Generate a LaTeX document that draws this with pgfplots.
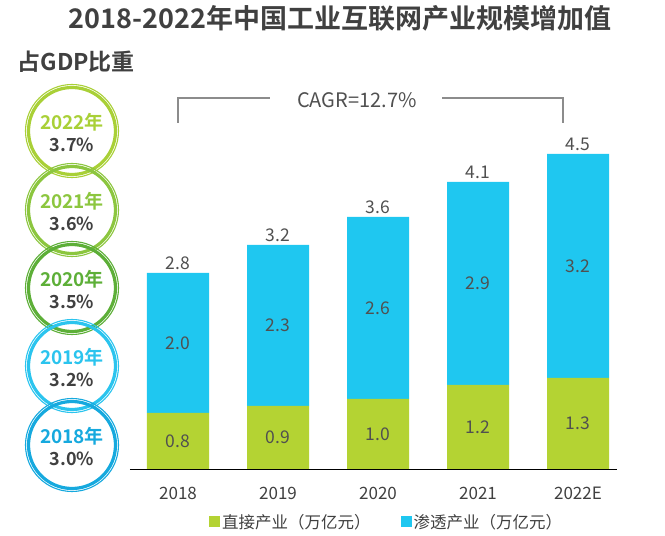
\documentclass[border=0pt]{standalone}
\usepackage{pgfplots}
\pgfplotsset{compat=1.18}
\usepackage{fontspec}
\setmainfont{Noto Sans CJK SC}[BoldFont={Noto Sans CJK SC Bold}]
\definecolor{tgray}{HTML}{404040}
\definecolor{lgray}{HTML}{505050}
\definecolor{bgreen}{HTML}{B4D333}
\definecolor{bblue}{HTML}{1FC7F0}
\definecolor{cA}{HTML}{A9D037}
\definecolor{cB}{HTML}{8CC63F}
\definecolor{cC}{HTML}{5DAF38}
\definecolor{cD}{HTML}{2BC4EE}
\definecolor{cE}{HTML}{16A9DE}
\definecolor{brk}{HTML}{8C8C8C}

\pgfplotstableread{
x direct indirect
0 0.8 2.0
1 0.9 2.3
2 1.0 2.6
3 1.2 2.9
4 1.3 3.2
}\mainData

\pgfplotstableread{
x y label
0 0.40 0.8
1 0.45 0.9
2 0.50 1.0
3 0.60 1.2
4 0.65 1.3
0 1.80 2.0
1 2.05 2.3
2 2.30 2.6
3 2.65 2.9
4 2.90 3.2
}\midLabels

\pgfplotstableread{
x y label
0 2.8 2.8
1 3.2 3.2
2 3.6 3.6
3 4.1 4.1
4 4.5 4.5
}\topLabels

\begin{document}
\begin{tikzpicture}[x=1pt,y=1pt]
\path[use as bounding box] (0,0) rectangle (665,536);

% title
\node[font=\bfseries\fontsize{27}{27}\selectfont, text=tgray] at (340,518) {2018-2022年中国工业互联网产业规模增加值};
\node[font=\bfseries\fontsize{23}{23}\selectfont, text=tgray, anchor=west] at (14,474) {占GDP比重};

% circles
\foreach \c/\yr/\pc/\col in {131/2022/3.7/cA, 210/2021/3.6/cB, 288/2020/3.5/cC, 366/2019/3.2/cD, 445/2018/3.0/cE}{
  \draw[\col, line width=1.1] (72,536-\c) circle (46.5);
  \draw[\col, line width=3.2] (72,536-\c) circle (43.5);
  \node[font=\bfseries\fontsize{19}{19}\selectfont, text=\col] at (72,536-\c+9) {\yr 年};
  \node[font=\bfseries\fontsize{18}{18}\selectfont, text=tgray] at (72,536-\c-14) {\pc\%};
}

% CAGR bracket
\draw[brk, line width=1.3] (178,536-123) -- (178,536-98) -- (270,536-98);
\draw[brk, line width=1.3] (442,536-98) -- (563,536-98) -- (563,536-123);
\node[font=\fontsize{20}{20}\selectfont, text=lgray] at (357,536-100) {CAGR=12.7\%};

\begin{axis}[
  at={(178pt,67pt)}, anchor=origin,
  scale only axis, width=487pt, height=350pt,
  xmin=-0.48, xmax=4.39, ymin=0, ymax=5,
  ybar stacked, bar width=62pt,
  axis x line=bottom, axis y line=none,
  axis line style={black, line width=0.8pt, -},
  xtick=data, xticklabels={2018,2019,2020,2021,2022E},
  major tick length=0pt,
  /pgf/number format/assume math mode=true,
  xticklabel style={font=\fontsize{17}{17}\selectfont, text=tgray, yshift=-15pt},
  legend style={at={(axis description cs:0.527,-0.151)}, anchor=center, draw=none, fill=none,
    legend columns=2, font=\fontsize{16.5}{16.5}\selectfont, text=tgray,
    /tikz/every even column/.append style={column sep=28pt}},
  legend image code/.code={\fill[#1] (0pt,-5.5pt) rectangle (11pt,5.5pt);},
]
\addplot[fill=bgreen, draw=none] table[x=x, y=direct] {\mainData};
\addlegendentry{直接产业（万亿元）}
\addplot[fill=bblue, draw=none] table[x=x, y=indirect] {\mainData};
\addlegendentry{渗透产业（万亿元）}
\end{axis}

\begin{axis}[
  at={(178pt,67pt)}, anchor=origin,
  scale only axis, width=487pt, height=350pt,
  xmin=-0.48, xmax=4.39, ymin=0, ymax=5,
  hide axis, clip=false,
]
\addplot[draw=none, mark=none, nodes near coords, point meta=explicit symbolic,
  nodes near coords align=center,
  every node near coord/.append style={font=\fontsize{17.5}{17.5}\selectfont, text=lgray, anchor=center}]
  table[x=x, y=y, meta=label] {\midLabels};
\addplot[draw=none, mark=none, nodes near coords, point meta=explicit symbolic,
  every node near coord/.append style={font=\fontsize{17.5}{17.5}\selectfont, text=lgray, anchor=south, yshift=0pt}]
  table[x=x, y=y, meta=label] {\topLabels};
\end{axis}
\end{tikzpicture}
\end{document}
